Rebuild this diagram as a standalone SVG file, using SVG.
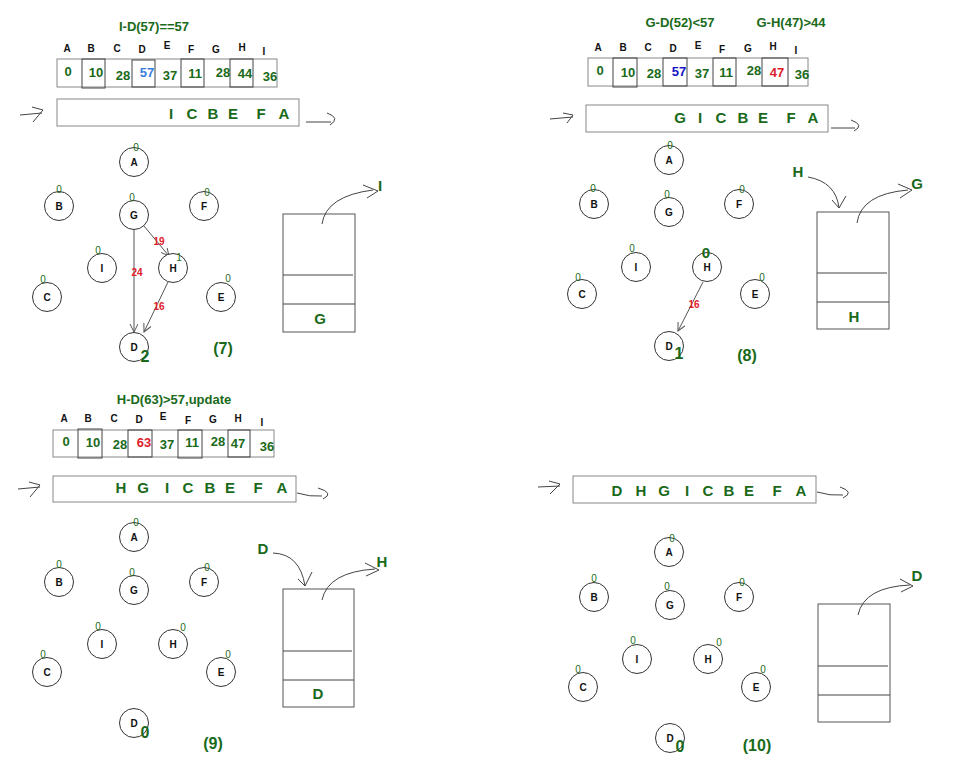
<svg xmlns="http://www.w3.org/2000/svg" width="958" height="782" viewBox="0 0 958 782">
<style>
text{font-family:"Liberation Sans",Arial,sans-serif}
.nd circle{fill:#fff;stroke:#333;stroke-width:1}
.nl{font-size:10px;font-weight:bold;fill:#111;text-anchor:middle}
.z{font-size:10px;fill:#1a6a1a;text-anchor:middle}
.big{font-size:16px;font-weight:bold;fill:#1a6a1a;text-anchor:middle}
.hd{font-size:10px;font-weight:bold;fill:#111;text-anchor:middle}
.val{font-size:13px;font-weight:bold;fill:#1a6a1a;text-anchor:middle}
.q{font-size:15px;font-weight:bold;fill:#1a6a1a;text-anchor:middle}
.tt{font-size:13px;font-weight:bold;fill:#1a6a1a;text-anchor:middle}
.ew{font-size:10px;font-weight:bold;fill:#e0202a;text-anchor:middle}
.lbl{font-size:16px;font-weight:bold;fill:#1a6a1a;text-anchor:middle}
.outer{fill:#fff;stroke:#888;stroke-width:1}
.cell{fill:none;stroke:#444;stroke-width:1}
.box{fill:#fff;stroke:#555;stroke-width:1}
.sep{stroke:#444;stroke-width:1}
.hand{fill:none;stroke:#444;stroke-width:1}
.edge{fill:none;stroke:#555;stroke-width:1;marker-end:url(#ah)}
</style>
<defs>
<marker id="ah" markerUnits="userSpaceOnUse" markerWidth="10" markerHeight="10" refX="8" refY="4" orient="auto">
<path d="M0,0 L8,4 L0,8" fill="none" stroke="#555" stroke-width="1"/>
</marker>
</defs>
<rect width="958" height="782" fill="#fff"/>

<!-- ===== Panel 7 ===== -->
<g id="p7-table">
<text class="tt" x="154" y="31">I-D(57)==57</text>
<text class="hd" x="67" y="52">A</text><text class="hd" x="91" y="52">B</text><text class="hd" x="117" y="52">C</text><text class="hd" x="142" y="53">D</text><text class="hd" x="167" y="49">E</text><text class="hd" x="191" y="53">F</text><text class="hd" x="216" y="53">G</text><text class="hd" x="242" y="51">H</text><text class="hd" x="264" y="55">I</text>
<rect class="outer" x="57" y="59" width="220" height="28"/>
<rect class="cell" x="82" y="59" width="23" height="29"/>
<rect class="cell" x="132" y="60" width="23" height="27"/>
<rect class="cell" x="181" y="59" width="23" height="28"/>
<rect class="cell" x="230" y="59" width="23" height="28"/>
<text class="val" x="68" y="76">0</text><text class="val" x="96" y="77">10</text><text class="val" x="123" y="80">28</text><text class="val" x="147" y="77" style="fill:#3a7de0">57</text><text class="val" x="170" y="80">37</text><text class="val" x="195" y="78">11</text><text class="val" x="223" y="77">28</text><text class="val" x="245" y="78">44</text><text class="val" x="270" y="81">36</text>
</g>
<g id="p7-queue">
<path class="hand" d="M20,115 L42,113 M32,107 L43,110 L33,122"/>
<rect class="outer" x="57" y="99" width="242" height="27"/>
<text class="q" x="171" y="119">I</text><text class="q" x="192" y="119">C</text><text class="q" x="213" y="119">B</text><text class="q" x="233" y="119">E</text><text class="q" x="261" y="119">F</text><text class="q" x="284" y="119">A</text>
<path class="hand" d="M306,122 L331,122 M327,113 Q341,118 330,125"/>
</g>
<g id="p7-stack">
<rect class="box" x="283" y="214" width="72" height="118"/>
<line class="sep" x1="283" y1="275" x2="353" y2="275"/>
<line class="sep" x1="283" y1="304" x2="355" y2="304"/>
<text class="q" x="320" y="324">G</text>
<path class="hand" d="M322,224 Q326,196 373,190 M363,185 L378,191 L367,198"/>
<text class="q" x="380" y="191">I</text>
</g>
<g id="p7-connectors">
<line class="edge" x1="134" y1="229" x2="134" y2="332"/>
<line class="edge" x1="144" y1="226" x2="169" y2="256"/>
<line class="edge" x1="168" y1="282" x2="144" y2="332"/>
<text class="ew" x="137" y="276">24</text>
<text class="ew" x="159" y="245">19</text>
<text class="ew" x="159" y="310">16</text>
</g>
<g id="p7-A" class="nd"><circle cx="134" cy="162" r="14.5"/><text class="nl" x="134" y="165.5">A</text><text class="z" x="136" y="151">0</text></g>
<g id="p7-B" class="nd"><circle cx="59" cy="206" r="14.5"/><text class="nl" x="59" y="209.5">B</text><text class="z" x="59" y="193">0</text></g>
<g id="p7-G" class="nd"><circle cx="134" cy="215" r="14.5"/><text class="nl" x="134" y="218.5">G</text><text class="z" x="132" y="201">0</text></g>
<g id="p7-F" class="nd"><circle cx="204" cy="206" r="14.5"/><text class="nl" x="204" y="209.5">F</text><text class="z" x="207" y="196">0</text></g>
<g id="p7-I" class="nd"><circle cx="102" cy="268" r="14.5"/><text class="nl" x="102" y="271.5">I</text><text class="z" x="98" y="254">0</text></g>
<g id="p7-H" class="nd"><circle cx="173" cy="268" r="14.5"/><text class="nl" x="173" y="271.5">H</text><text class="z" x="179" y="261">1</text></g>
<g id="p7-C" class="nd"><circle cx="47" cy="297" r="14.5"/><text class="nl" x="47" y="300.5">C</text><text class="z" x="43" y="283">0</text></g>
<g id="p7-E" class="nd"><circle cx="221" cy="297" r="14.5"/><text class="nl" x="221" y="300.5">E</text><text class="z" x="228" y="282">0</text></g>
<g id="p7-D" class="nd"><circle cx="134" cy="347" r="14.5"/><text class="nl" x="134" y="350.5">D</text><text class="big" x="145" y="362">2</text></g>
<text class="lbl" x="223" y="354">(7)</text>

<!-- ===== Panel 8 ===== -->
<g id="p8-table">
<text class="tt" x="680" y="27">G-D(52)&lt;57</text>
<text class="tt" x="791" y="27">G-H(47)&gt;44</text>
<text class="hd" x="598" y="51">A</text><text class="hd" x="623" y="51">B</text><text class="hd" x="648" y="51">C</text><text class="hd" x="673" y="52">D</text><text class="hd" x="698" y="49">E</text><text class="hd" x="722" y="53">F</text><text class="hd" x="748" y="52">G</text><text class="hd" x="773" y="50">H</text><text class="hd" x="796" y="54">I</text>
<rect class="outer" x="588" y="58" width="220" height="28"/>
<rect class="cell" x="613" y="58" width="24" height="29"/>
<rect class="cell" x="663" y="58" width="24" height="28"/>
<rect class="cell" x="713" y="58" width="23" height="28"/>
<rect class="cell" x="762" y="58" width="26" height="28"/>
<text class="val" x="600" y="75">0</text><text class="val" x="628" y="77">10</text><text class="val" x="654" y="78">28</text><text class="val" x="679" y="76" style="fill:#1414c8">57</text><text class="val" x="702" y="78">37</text><text class="val" x="726" y="77">11</text><text class="val" x="754" y="75">28</text><text class="val" x="777" y="77" style="fill:#e0202a">47</text><text class="val" x="802" y="79">36</text>
</g>
<g id="p8-queue">
<path class="hand" d="M550,119 L573,117 M563,113 L573,115 L567,123"/>
<rect class="outer" x="586" y="105" width="242" height="27"/>
<text class="q" x="680" y="123">G</text><text class="q" x="700" y="123">I</text><text class="q" x="721" y="123">C</text><text class="q" x="743" y="123">B</text><text class="q" x="763" y="123">E</text><text class="q" x="791" y="123">F</text><text class="q" x="813" y="123">A</text>
<path class="hand" d="M831,128 L855,128 M851,120 Q865,125 854,131"/>
</g>
<g id="p8-stack">
<rect class="box" x="817" y="212" width="72" height="117"/>
<line class="sep" x1="817" y1="273" x2="887" y2="273"/>
<line class="sep" x1="817" y1="302" x2="889" y2="302"/>
<text class="q" x="854" y="322">H</text>
<text class="q" x="798" y="177">H</text>
<path class="hand" d="M808,177 Q836,182 839,208 M832,200 L839,208 L846,196"/>
<text class="q" x="917" y="189">G</text>
<path class="hand" d="M857,223 Q861,194 908,190 M898,184 L912,190 L900,198"/>
</g>
<g id="p8-connectors">
<line class="edge" x1="703" y1="282" x2="678" y2="331"/>
<text class="ew" x="694" y="308">16</text>
</g>
<g id="p8-A" class="nd"><circle cx="669" cy="160" r="14.5"/><text class="nl" x="669" y="163.5">A</text><text class="z" x="670" y="149">0</text></g>
<g id="p8-B" class="nd"><circle cx="594" cy="204" r="14.5"/><text class="nl" x="594" y="207.5">B</text><text class="z" x="593" y="192">0</text></g>
<g id="p8-G" class="nd"><circle cx="669" cy="212" r="14.5"/><text class="nl" x="669" y="215.5">G</text><text class="z" x="667" y="198">0</text></g>
<g id="p8-F" class="nd"><circle cx="739" cy="204" r="14.5"/><text class="nl" x="739" y="207.5">F</text><text class="z" x="742" y="193">0</text></g>
<g id="p8-I" class="nd"><circle cx="636" cy="267" r="14.5"/><text class="nl" x="636" y="270.5">I</text><text class="z" x="632" y="252">0</text></g>
<g id="p8-H" class="nd"><circle cx="707" cy="267" r="14.5"/><text class="nl" x="707" y="270.5">H</text><text class="big" x="706" y="258" style="font-size:15px">0</text></g>
<g id="p8-C" class="nd"><circle cx="582" cy="294" r="14.5"/><text class="nl" x="582" y="297.5">C</text><text class="z" x="578" y="281">0</text></g>
<g id="p8-E" class="nd"><circle cx="755" cy="294" r="14.5"/><text class="nl" x="755" y="297.5">E</text><text class="z" x="762" y="281">0</text></g>
<g id="p8-D" class="nd"><circle cx="669" cy="346" r="14.5"/><text class="nl" x="669" y="349.5">D</text><text class="big" x="679" y="359">1</text></g>
<text class="lbl" x="747" y="361">(8)</text>

<!-- ===== Panel 9 ===== -->
<g id="p9-table">
<text class="tt" x="174" y="404">H-D(63)&gt;57,update</text>
<text class="hd" x="64" y="422">A</text><text class="hd" x="88" y="422">B</text><text class="hd" x="114" y="422">C</text><text class="hd" x="139" y="423">D</text><text class="hd" x="163" y="420">E</text><text class="hd" x="188" y="424">F</text><text class="hd" x="213" y="423">G</text><text class="hd" x="238" y="422">H</text><text class="hd" x="262" y="426">I</text>
<rect class="outer" x="53" y="430" width="221" height="27"/>
<rect class="cell" x="78" y="429" width="24" height="29"/>
<rect class="cell" x="128" y="430" width="24" height="27"/>
<rect class="cell" x="178" y="430" width="24" height="28"/>
<rect class="cell" x="228" y="430" width="22" height="27"/>
<text class="val" x="66" y="446">0</text><text class="val" x="93" y="447">10</text><text class="val" x="120" y="449">28</text><text class="val" x="144" y="447" style="fill:#e0202a">63</text><text class="val" x="167" y="449">37</text><text class="val" x="192" y="447">11</text><text class="val" x="218" y="446">28</text><text class="val" x="238" y="448">47</text><text class="val" x="267" y="451">36</text>
</g>
<g id="p9-queue">
<path class="hand" d="M18,489 L40,487 M29,482 L40,485 L30,497"/>
<rect class="outer" x="53" y="476" width="243" height="26"/>
<text class="q" x="121" y="493">H</text><text class="q" x="143" y="493">G</text><text class="q" x="167" y="493">I</text><text class="q" x="188" y="493">C</text><text class="q" x="210" y="493">B</text><text class="q" x="230" y="493">E</text><text class="q" x="258" y="493">F</text><text class="q" x="282" y="493">A</text>
<path class="hand" d="M297,493 Q310,497 322,496 M318,488 Q335,493 323,499"/>
</g>
<g id="p9-stack">
<rect class="box" x="283" y="589" width="71" height="118"/>
<line class="sep" x1="283" y1="651" x2="352" y2="651"/>
<line class="sep" x1="283" y1="680" x2="354" y2="680"/>
<text class="q" x="318" y="699">D</text>
<text class="q" x="263" y="554">D</text>
<path class="hand" d="M273,553 Q300,554 305,586 M298,579 L305,586 L312,572"/>
<text class="q" x="382" y="567">H</text>
<path class="hand" d="M322,600 Q328,572 375,569 M365,563 L379,570 L366,576"/>
</g>
<g id="p9-A" class="nd"><circle cx="134" cy="537" r="14.5"/><text class="nl" x="134" y="540.5">A</text><text class="z" x="136" y="526">0</text></g>
<g id="p9-B" class="nd"><circle cx="59" cy="582" r="14.5"/><text class="nl" x="59" y="585.5">B</text><text class="z" x="59" y="568">0</text></g>
<g id="p9-G" class="nd"><circle cx="134" cy="590" r="14.5"/><text class="nl" x="134" y="593.5">G</text><text class="z" x="132" y="576">0</text></g>
<g id="p9-F" class="nd"><circle cx="204" cy="582" r="14.5"/><text class="nl" x="204" y="585.5">F</text><text class="z" x="207" y="571">0</text></g>
<g id="p9-I" class="nd"><circle cx="102" cy="644" r="14.5"/><text class="nl" x="102" y="647.5">I</text><text class="z" x="98" y="630">0</text></g>
<g id="p9-H" class="nd"><circle cx="173" cy="644" r="14.5"/><text class="nl" x="173" y="647.5">H</text><text class="z" x="183" y="631">0</text></g>
<g id="p9-C" class="nd"><circle cx="47" cy="672" r="14.5"/><text class="nl" x="47" y="675.5">C</text><text class="z" x="43" y="658">0</text></g>
<g id="p9-E" class="nd"><circle cx="221" cy="672" r="14.5"/><text class="nl" x="221" y="675.5">E</text><text class="z" x="228" y="658">0</text></g>
<g id="p9-D" class="nd"><circle cx="134" cy="723" r="14.5"/><text class="nl" x="134" y="726.5">D</text><text class="big" x="145" y="738">0</text></g>
<text class="lbl" x="213" y="749">(9)</text>

<!-- ===== Panel 10 ===== -->
<g id="p10-queue">
<path class="hand" d="M538,487 L560,486 M549,481 L560,484 L550,494"/>
<rect class="outer" x="573" y="476" width="243" height="27"/>
<text class="q" x="617" y="496">D</text><text class="q" x="641" y="496">H</text><text class="q" x="664" y="496">G</text><text class="q" x="687" y="496">I</text><text class="q" x="708" y="496">C</text><text class="q" x="729" y="496">B</text><text class="q" x="749" y="496">E</text><text class="q" x="777" y="496">F</text><text class="q" x="801" y="496">A</text>
<path class="hand" d="M817,492 Q830,496 843,495 M840,487 Q855,492 843,498"/>
</g>
<g id="p10-stack">
<rect class="box" x="818" y="604" width="72" height="118"/>
<line class="sep" x1="818" y1="666" x2="888" y2="666"/>
<line class="sep" x1="818" y1="695" x2="890" y2="695"/>
<text class="q" x="917" y="581">D</text>
<path class="hand" d="M858,615 Q864,587 910,585 M900,579 L913,586 L901,592"/>
</g>
<g id="p10-A" class="nd"><circle cx="669" cy="552" r="14.5"/><text class="nl" x="669" y="555.5">A</text><text class="z" x="672" y="542">0</text></g>
<g id="p10-B" class="nd"><circle cx="594" cy="597" r="14.5"/><text class="nl" x="594" y="600.5">B</text><text class="z" x="594" y="582">0</text></g>
<g id="p10-G" class="nd"><circle cx="670" cy="605" r="14.5"/><text class="nl" x="670" y="608.5">G</text><text class="z" x="667" y="590">0</text></g>
<g id="p10-F" class="nd"><circle cx="739" cy="597" r="14.5"/><text class="nl" x="739" y="600.5">F</text><text class="z" x="742" y="586">0</text></g>
<g id="p10-I" class="nd"><circle cx="637" cy="659" r="14.5"/><text class="nl" x="637" y="662.5">I</text><text class="z" x="633" y="644">0</text></g>
<g id="p10-H" class="nd"><circle cx="708" cy="659" r="14.5"/><text class="nl" x="708" y="662.5">H</text><text class="z" x="719" y="646">0</text></g>
<g id="p10-C" class="nd"><circle cx="583" cy="687" r="14.5"/><text class="nl" x="583" y="690.5">C</text><text class="z" x="578" y="673">0</text></g>
<g id="p10-E" class="nd"><circle cx="756" cy="687" r="14.5"/><text class="nl" x="756" y="690.5">E</text><text class="z" x="763" y="673">0</text></g>
<g id="p10-D" class="nd"><circle cx="670" cy="738" r="14.5"/><text class="nl" x="670" y="741.5">D</text><text class="big" x="680" y="752">0</text></g>
<text class="lbl" x="757" y="751">(10)</text>
</svg>
